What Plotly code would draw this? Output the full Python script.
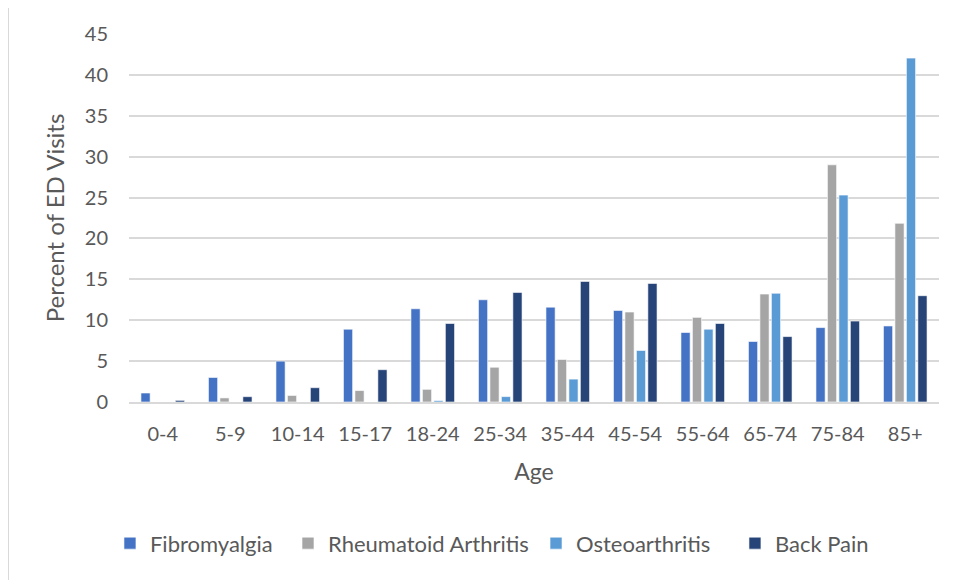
import plotly.graph_objects as go

age_groups = ["0-4", "5-9", "10-14", "15-17", "18-24", "25-34", "35-44",
              "45-54", "55-64", "65-74", "75-84", "85+"]
fibromyalgia = [1.1, 3.0, 5.0, 8.9, 11.4, 12.5, 11.6, 11.2, 8.5, 7.4, 9.1, 9.3]
rheumatoid = [0.0, 0.5, 0.8, 1.4, 1.55, 4.25, 5.2, 11.0, 10.35, 13.2, 29.0, 21.85]
osteo = [0.0, 0.0, 0.0, 0.0, 0.17, 0.66, 2.8, 6.3, 8.9, 13.3, 25.3, 42.05]
back_pain = [0.2, 0.65, 1.75, 3.95, 9.6, 13.4, 14.75, 14.5, 9.6, 8.0, 9.9, 13.0]

series = [
    ("Fibromyalgia", fibromyalgia, "#4472C4"),
    ("Rheumatoid Arthritis", rheumatoid, "#A5A5A5"),
    ("Osteoarthritis", osteo, "#5B9BD5"),
    ("Back Pain", back_pain, "#264478"),
]

txt = "#595959"
# one legend box per series so the spacing can follow the original
legend_x = [-0.0235, 0.1963, 0.5025, 0.7481]

fig = go.Figure()
legends = {}
for i, (name, vals, col) in enumerate(series):
    key = "legend" if i == 0 else "legend%d" % (i + 1)
    fig.add_trace(go.Bar(
        x=age_groups, y=vals, name=name, legend=key, showlegend=True,
        marker=dict(color=col, line=dict(color="white", width=0.6)),
    ))
    legends[key] = dict(
        orientation="h", x=legend_x[i], xanchor="left", y=-0.327, yanchor="top",
        font=dict(size=22, color=txt), itemwidth=30, bgcolor="rgba(0,0,0,0)",
    )

fig.update_layout(
    width=958, height=580,
    margin=dict(l=121, r=27, t=26, b=186),
    paper_bgcolor="white", plot_bgcolor="white",
    font=dict(family="Lato, sans-serif", color=txt, size=20),
    showlegend=True,
    barmode="group", bargap=0.32, bargroupgap=0.2,
    xaxis=dict(
        title=dict(text="Age", font=dict(size=23, color=txt), standoff=20),
        tickfont=dict(size=20, color=txt),
        showline=True, linecolor="#d9d9d9", linewidth=2,
        ticks="", showgrid=False, ticklabelstandoff=13,
    ),
    yaxis=dict(
        title=dict(text="Percent of ED Visits", font=dict(size=24, color=txt), standoff=13),
        range=[0, 45], dtick=5,
        tickfont=dict(size=20, color=txt),
        showgrid=True, gridcolor="#d9d9d9", gridwidth=2,
        zeroline=False, showline=False, ticks="",
        ticklabelstandoff=20,
    ),
    shapes=[dict(
        type="rect", xref="paper", yref="paper",
        x0=-0.1494, x1=1.2, y0=-0.7, y1=1.0788,
        line=dict(color="#d9d9d9", width=2), fillcolor="rgba(0,0,0,0)",
        layer="below",
    )],
    **legends,
)

fig.write_html("out.html")
